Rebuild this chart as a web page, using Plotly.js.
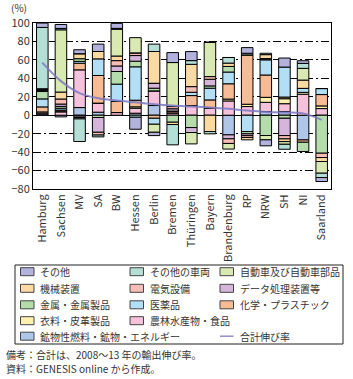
<!DOCTYPE html>
<html>
<head>
<meta charset="utf-8">
<script src="https://cdn.plot.ly/plotly-3.0.1.min.js"></script>
<style>html,body{margin:0;padding:0;background:#fff;}#chart{width:353px;height:379px;}</style>
</head>
<body>
<div id="chart"></div>
<script>
const categories = ['Hamburg','Sachsen','MV','SA','BW','Hessen','Berlin','Bremen','Thüringen','Bayern','Brandenburg','RP','NRW','SH','NI','Saarland'];

// stacked from bottom (first) to top (last)
const mineral   = [1.2, -1.8, 8.3, 3.3, 0, 2.2, 10.5, 0, 0, 0, -21.3, 0, 4, 4, -26.8, 0];
const agri      = [1.2, 3.6, 40.9, 9.8, 2.9, 5.4, 15.9, 2.5, 10.5, 7.6, 15.5, 9.4, 10, 8.5, 22.8, 7.2];
const clothing  = [1.2, 1, -1, 0, 0, 1.5, 0, 0, 0, 0, 2, 2.5, 5.4, 5.4, 2, 2.9];
const chemical  = [5.4, 1, 7.2, 30, 12, 7.2, -3.3, 2, 10.8, 9, 16.6, 53.5, 24.2, 1.8, -2.5, 12.3];
const pharma    = [8.7, 2, 2, 18, 18.8, 36.2, -6.5, 0, 3.6, 12.7, 12.7, -17.7, 16.6, 32.5, 4.3, 6.5];
const metal     = [8, 2, 2.9, -2.5, 13.7, 6.1, 2.9, -7.6, -13.4, 2.5, 6.1, -2.5, -22, -3.3, -10, -41.2];
const dataProc  = [1, 2.5, -1.5, -16, 6, 6.1, 5.4, 2.5, -5.4, 7.2, -4.3, -2, 0, -18.8, 0, 0];
const electric  = [1, 5.5, -1.5, -3, 5.8, 2.9, 0, 2.4, 6.1, 2.9, -5, -2, 1.2, -3.6, 0, -4.7];
const machinery = [1, 7.5, 5.4, 8, 5, 0, 34.4, -2.5, 24.2, -17.7, 3.6, -2.5, 4.3, -2.9, 9, -4.3];
const autos     = [0, 67.5, 0, 0, 29, 16.5, -8.7, 47.7, -12.3, 37.2, -6.1, 0, -4.7, -2.9, 12.7, -12.7];
const vehicles  = [66.5, 1.5, -24.5, -2, 1, -2.2, 8, -22, 4, -2.5, 6.1, 1.8, 1.5, -5.4, 5.4, -4.7];
const others    = [4.7, 4.3, 4.3, 8, 5.4, -13, -3.6, 10.8, 9.8, 0, 0, 6.1, -6.5, 9.8, 2.9, -4.3];
const total     = [57, 37, 24, 18.5, 16, 14, 12, 10.5, 9.5, 8.5, 7, 5, 3.5, 3, 2, -5];

const seriesNames = ['鉱物性燃料・鉱物・エネルギー','農林水産物・食品','衣料・皮革製品','化学・プラスチック','医薬品','金属・金属製品','データ処理装置等','電気設備','機械装置','自動車及び自動車部品','その他の車両','その他'];
const seriesValues = [mineral, agri, clothing, chemical, pharma, metal, dataProc, electric, machinery, autos, vehicles, others];
const seriesColors = ['#AFC6E8','#F6C1DA','#FFF0B0','#F7BC96','#B2DFF5','#B5DCAB','#D5B6DA','#F6BDB7','#FBD9A2','#D8E9B2','#B3DFD6','#B2B2DC'];
const totalName = '合計伸び率';
const totalColor = 'rgba(125,120,195,0.85)';
const noteLines = ['備考：合計は、2008～13 年の輸出伸び率。', '資料：GENESIS online から作成。'];

const FONT = '"Noto Sans CJK JP", "Noto Sans", sans-serif';
const TXT = '#333';

const traces = seriesNames.map((n, i) => ({
  type: 'bar', name: n, x: categories, y: seriesValues[i],
  marker: {color: seriesColors[i], line: {color: '#000', width: 1}},
  showlegend: false, hoverinfo: 'skip'
}));
traces.push({
  type: 'scatter', mode: 'lines', name: totalName, x: categories, y: total,
  line: {color: totalColor, width: 2, shape: 'spline', smoothing: 1},
  showlegend: false, hoverinfo: 'skip'
});

// plot area in pixels
const L = 33, R = 22, T = 23, B = 190, W = 353, H = 379;
const PW = W - L - R, PH = H - T - B;
const px = x => (x - L) / PW;
const py = y => (H - B - y) / PH;

// manual legend: [name, color, col, row, kind]
const legendItems = [
  [seriesNames[11], seriesColors[11], 0, 0],
  [seriesNames[10], seriesColors[10], 1, 0],
  [seriesNames[9],  seriesColors[9],  2, 0],
  [seriesNames[8],  seriesColors[8],  0, 1],
  [seriesNames[7],  seriesColors[7],  1, 1],
  [seriesNames[6],  seriesColors[6],  2, 1],
  [seriesNames[5],  seriesColors[5],  0, 2],
  [seriesNames[4],  seriesColors[4],  1, 2],
  [seriesNames[3],  seriesColors[3],  2, 2],
  [seriesNames[2],  seriesColors[2],  0, 3],
  [seriesNames[1],  seriesColors[1],  1, 3],
  [seriesNames[0],  seriesColors[0],  0, 4],
  [totalName, totalColor, 2, 4, 'line']
];
const colX = [20.5, 130, 220];
const rowY = [271.7, 288.3, 304.8, 320.7, 336.2];

const shapes = [{
  type: 'rect', xref: 'paper', yref: 'paper',
  x0: px(15), x1: px(343), y0: py(344), y1: py(265),
  line: {color: '#222', width: 1}, fillcolor: 'rgba(0,0,0,0)'
}];
const annotations = [{
  xref: 'paper', yref: 'paper', x: px(19), y: py(7.5), xanchor: 'center', yanchor: 'middle',
  text: '(%)', showarrow: false, font: {family: FONT, size: 10, color: TXT}
}];
legendItems.forEach(([n, c, col, row, kind]) => {
  const x = colX[col], y = rowY[row];
  if (kind === 'line') {
    shapes.push({type: 'line', xref: 'paper', yref: 'paper', x0: px(x), x1: px(x + 13.5), y0: py(y), y1: py(y),
      line: {color: c, width: 1.5}});
  } else {
    shapes.push({type: 'rect', xref: 'paper', yref: 'paper', x0: px(x), x1: px(x + 13.5), y0: py(y + 4), y1: py(y - 4),
      fillcolor: c, line: {color: '#444', width: 1}});
  }
  annotations.push({xref: 'paper', yref: 'paper', x: px(x + 17.5), y: py(y), xanchor: 'left', yanchor: 'middle',
    text: n, showarrow: false, font: {family: FONT, size: 10, color: TXT}});
});
noteLines.forEach((t, i) => {
  annotations.push({xref: 'paper', yref: 'paper', x: px(4), y: py(354 + i * 14.5), xanchor: 'left', yanchor: 'middle',
    text: t, showarrow: false, font: {family: FONT, size: 10, color: TXT}});
});

const yMin = -80, yMax = 100;
const boundaries = categories.slice(1).map((_, i) => i + 0.5);

const layout = {
  width: W, height: H,
  margin: {l: L, r: R, t: T, b: B, pad: 0},
  paper_bgcolor: '#fff', plot_bgcolor: '#fff',
  barmode: 'relative', bargap: 0.38,
  font: {family: FONT, size: 11, color: TXT},
  showlegend: false,
  xaxis: {
    type: 'category', tickangle: -90, ticks: '', showgrid: false, zeroline: false,
    showline: true, mirror: true, linecolor: '#000', linewidth: 1,
    tickfont: {family: FONT, size: 11, color: TXT}, fixedrange: true
  },
  xaxis2: {
    overlaying: 'x', anchor: 'free', position: (0 - yMin) / (yMax - yMin), side: 'bottom',
    range: [-0.5, categories.length - 0.5], tickmode: 'array', tickvals: boundaries,
    ticks: 'inside', ticklen: 3, tickwidth: 1, tickcolor: '#000',
    showticklabels: false, showgrid: false, zeroline: false, showline: false, fixedrange: true
  },
  yaxis: {
    range: [yMin, yMax], dtick: 20, tick0: 0, ticks: '',
    showgrid: true, gridcolor: '#000', gridwidth: 1, griddash: '8px,3px,2px,3px',
    zeroline: true, zerolinecolor: '#000', zerolinewidth: 1.2,
    showline: true, mirror: true, linecolor: '#000', linewidth: 1,
    tickfont: {family: FONT, size: 11, color: TXT}, fixedrange: true
  },
  shapes: shapes,
  annotations: annotations
};

Plotly.newPlot('chart', traces, layout, {staticPlot: true, displayModeBar: false});
</script>
</body>
</html>
